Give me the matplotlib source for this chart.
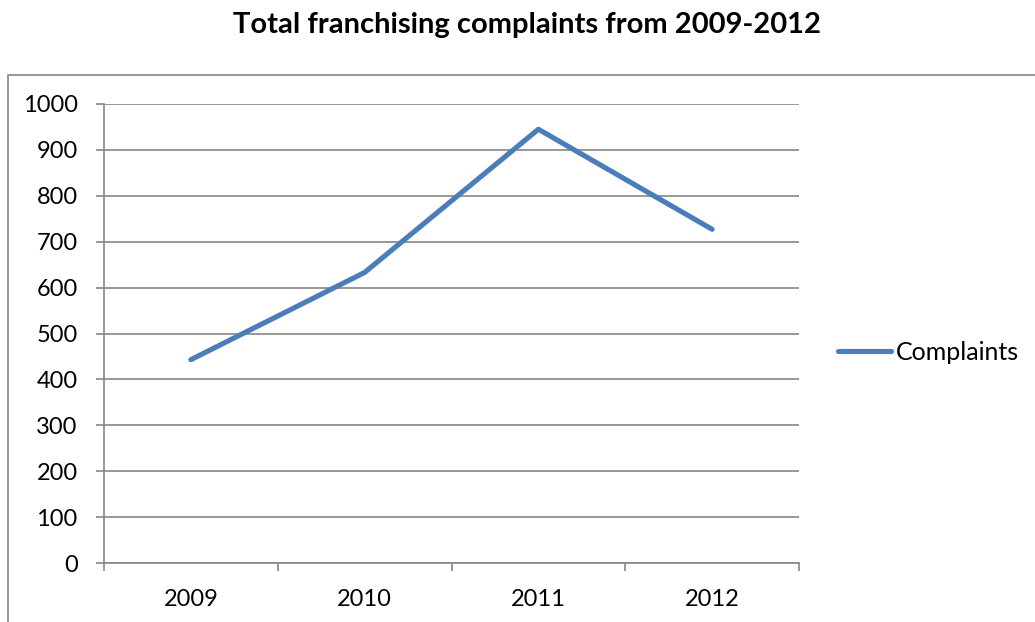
import matplotlib
matplotlib.use('Agg')
import matplotlib.pyplot as plt
from matplotlib.patches import Rectangle

# 数据
years = ['2009', '2010', '2011', '2012']
complaints = [443, 633, 945, 727]
y_ticks = [0, 100, 200, 300, 400, 500, 600, 700, 800, 900, 1000]

plt.rcParams['font.family'] = ['Lato', 'DejaVu Sans']

W, H = 1035, 622
fig = plt.figure(figsize=(W / 100, H / 100), dpi=100)

# 外框（被图片裁掉右侧和底部）
fig.patches.append(Rectangle((8 / W, -0.1), 1.2, 1 - 75 / H + 0.1,
                             transform=fig.transFigure, fill=False,
                             edgecolor='#868686', linewidth=1.2))

ax = fig.add_axes([104 / W, 1 - 563 / H, (799 - 104) / W, (563 - 104) / H])

x = [i + 0.5 for i in range(len(years))]
ax.plot(x, complaints, color='#4A7EBB', linewidth=3.7,
        solid_capstyle='round', solid_joinstyle='round', label='Complaints')

ax.set_xlim(0, len(years))
ax.set_ylim(0, 1000)
ax.set_yticks(y_ticks)
ax.yaxis.grid(True, color='#868686', linewidth=1.2)
ax.set_axisbelow(True)

ax.set_xticks(range(len(years) + 1))
ax.set_xticklabels([])
ax.set_xticks(x, minor=True)
ax.set_xticklabels(years, minor=True)
ax.tick_params(axis='x', which='minor', length=0, pad=19, labelsize=17)
ax.tick_params(axis='x', which='major', direction='out', length=6,
               color='#868686', width=1.2)
ax.tick_params(axis='y', direction='out', length=6, color='#868686',
               width=1.2, labelsize=17, pad=13)

for s in ['top', 'right']:
    ax.spines[s].set_visible(False)
for s in ['left', 'bottom']:
    ax.spines[s].set_color('#868686')
    ax.spines[s].set_linewidth(1.2)

fig.text(527 / W, 1 - 33 / H, 'Total franchising complaints from 2009-2012',
         ha='center', va='baseline', fontsize=21, fontweight='bold')

ax.legend(loc='center left', bbox_to_anchor=(838 / W, 1 - 352 / H),
          bbox_transform=fig.transFigure, frameon=False, fontsize=18,
          handlelength=2.1, handletextpad=0.2, borderpad=0, borderaxespad=0)

fig.savefig('out.png', dpi=100)
